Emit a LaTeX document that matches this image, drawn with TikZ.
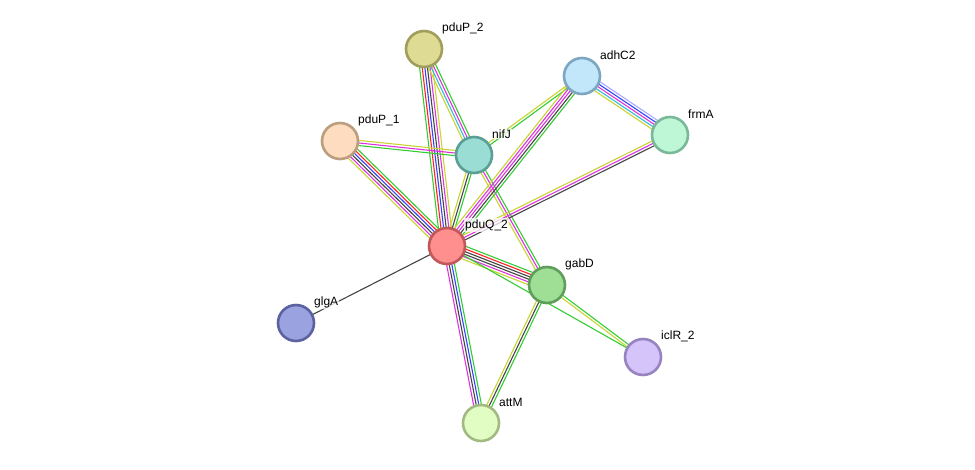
\documentclass[tikz,border=0pt]{standalone}
\usepackage{fontspec}
\setmainfont{Liberation Sans}
\usetikzlibrary{calc}
\pgfdeclarelayer{bg}
\pgfsetlayers{bg,main}
\definecolor{eG}{HTML}{33CC33}
\definecolor{eR}{HTML}{FF2222}
\definecolor{eB}{HTML}{3344FF}
\definecolor{eK}{HTML}{444444}
\definecolor{eM}{HTML}{DD33DD}
\definecolor{eC}{HTML}{33BBDD}
\definecolor{eY}{HTML}{C8D430}
\definecolor{eL}{HTML}{AAAAFF}
\definecolor{fP2}{RGB}{222,219,148}\definecolor{dP2}{RGB}{160,158,90}
\definecolor{fAd}{RGB}{194,231,251}\definecolor{dAd}{RGB}{125,166,193}
\definecolor{fFr}{RGB}{190,247,214}\definecolor{dFr}{RGB}{122,184,154}
\definecolor{fP1}{RGB}{253,220,192}\definecolor{dP1}{RGB}{187,158,126}
\definecolor{fNi}{RGB}{154,221,212}\definecolor{dNi}{RGB}{90,158,149}
\definecolor{fPQ}{RGB}{255,142,142}\definecolor{dPQ}{RGB}{192,88,90}
\definecolor{fGa}{RGB}{159,222,149}\definecolor{dGa}{RGB}{94,157,90}
\definecolor{fGl}{RGB}{154,163,224}\definecolor{dGl}{RGB}{90,98,160}
\definecolor{fIc}{RGB}{213,196,250}\definecolor{dIc}{RGB}{150,131,192}
\definecolor{fAt}{RGB}{226,253,196}\definecolor{dAt}{RGB}{162,186,130}
\tikzset{
  prot/.style={circle, minimum size=36pt, inner sep=0pt, line width=2.6pt},
  lab/.style={anchor=west, font=\fontsize{12}{14}\selectfont, fill=white, fill opacity=0.75, text opacity=1, inner sep=1pt},
  edgeline/.style={line width=1.1pt}
}
\newcommand\multiedge[4]{%
  \foreach \c [count=\i] in {#4} {%
    \pgfmathsetmacro\off{(\i-1-(#3-1)/2)*2.6}%
    \draw[edgeline, \c] ($(#1)!\off pt!90:(#2)$) -- ($(#2)!\off pt!-90:(#1)$);
  }}
\begin{document}
\begin{tikzpicture}[x=1pt,y=-1pt]
\useasboundingbox (0,0) rectangle (975,469);
\node[prot, fill=fP2, draw=dP2] (pduP2) at (424,49) {};
\node[prot, fill=fAd, draw=dAd] (adhC2) at (582,76) {};
\node[prot, fill=fFr, draw=dFr] (frmA) at (670,135) {};
\node[prot, fill=fP1, draw=dP1] (pduP1) at (340,141) {};
\node[prot, fill=fNi, draw=dNi] (nifJ) at (474,155) {};
\node[prot, fill=fPQ, draw=dPQ] (pduQ2) at (447,246) {};
\node[prot, fill=fGa, draw=dGa] (gabD) at (547,285) {};
\node[prot, fill=fGl, draw=dGl] (glgA) at (296,323) {};
\node[prot, fill=fIc, draw=dIc] (iclR2) at (643,357) {};
\node[prot, fill=fAt, draw=dAt] (attM) at (481,423) {};
\begin{pgfonlayer}{bg}
\multiedge{pduP2}{pduQ2}{6}{eG,eR,eB,eK,eM,eY}
\multiedge{pduP2}{nifJ}{4}{eY,eC,eM,eG}
\multiedge{pduP1}{nifJ}{3}{eG,eM,eY}
\multiedge{pduP1}{pduQ2}{6}{eY,eM,eK,eB,eR,eG}
\multiedge{nifJ}{pduQ2}{3}{eY,eK,eG}
\multiedge{nifJ}{adhC2}{2}{eG,eY}
\multiedge{nifJ}{gabD}{3}{eY,eM,eG}
\multiedge{adhC2}{pduQ2}{5}{eY,eM,eM,eK,eG}
\multiedge{adhC2}{frmA}{5}{eY,eC,eM,eB,eL}
\multiedge{frmA}{pduQ2}{3}{eY,eM,eK}
\multiedge{pduQ2}{gabD}{6}{eY,eM,eK,eK,eR,eG}
\multiedge{pduQ2}{iclR2}{1}{eG}
\multiedge{gabD}{iclR2}{2}{eY,eG}
\multiedge{pduQ2}{glgA}{1}{eK}
\multiedge{pduQ2}{attM}{4}{eM,eK,eB,eG}
\multiedge{gabD}{attM}{3}{eY,eK,eG}
\end{pgfonlayer}
\node[lab] at ($(pduP2)+(17,-21)$) {pduP\_2};
\node[lab] at ($(adhC2)+(17,-21)$) {adhC2};
\node[lab] at ($(frmA)+(17,-21)$) {frmA};
\node[lab] at ($(pduP1)+(17,-21)$) {pduP\_1};
\node[lab] at ($(nifJ)+(17,-21)$) {nifJ};
\node[lab] at ($(pduQ2)+(17,-21)$) {pduQ\_2};
\node[lab] at ($(gabD)+(17,-21)$) {gabD};
\node[lab] at ($(glgA)+(17,-21)$) {glgA};
\node[lab] at ($(iclR2)+(17,-21)$) {iclR\_2};
\node[lab] at ($(attM)+(17,-21)$) {attM};
\end{tikzpicture}
\end{document}
